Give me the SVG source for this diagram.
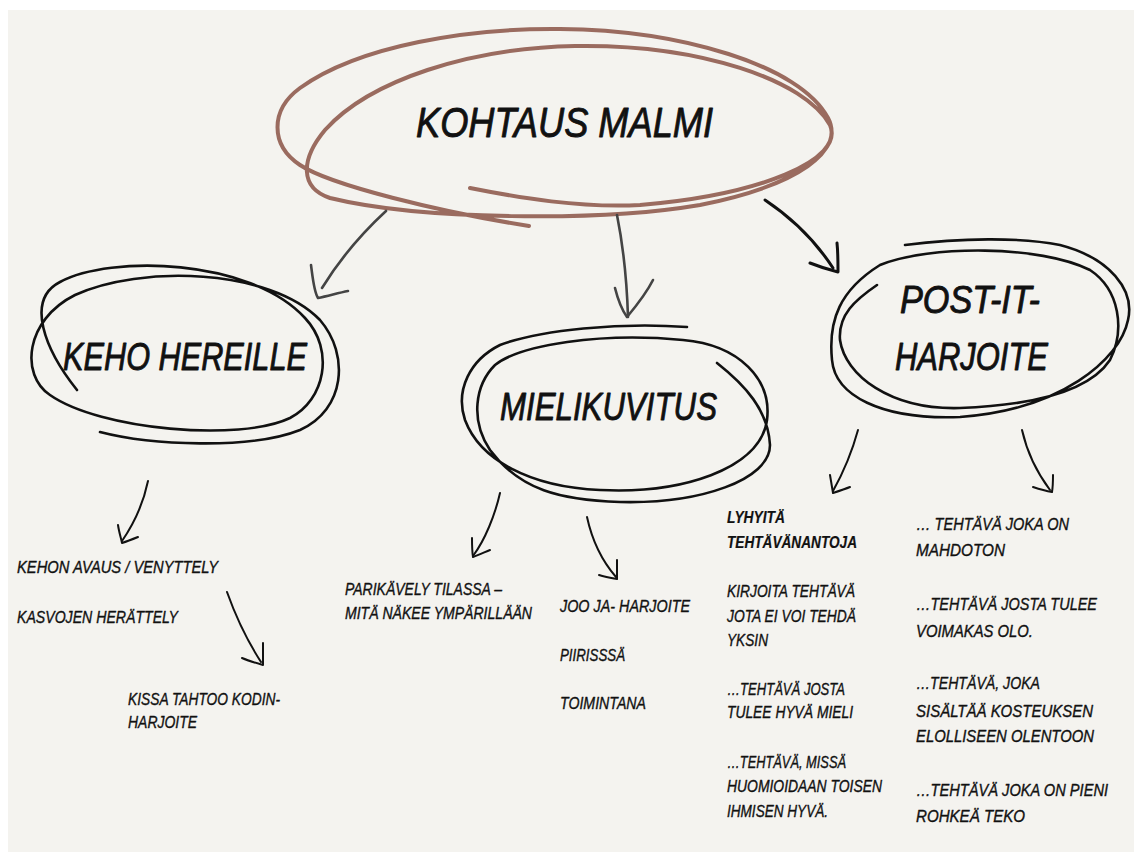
<svg xmlns="http://www.w3.org/2000/svg" width="1134" height="852" viewBox="0 0 1134 852">
<style>
.bg{fill:#f4f3ef}
.brown{fill:none;stroke:#9a6b5f;stroke-width:4;stroke-linecap:round;stroke-linejoin:round}
.loop{fill:none;stroke:#111;stroke-width:2.6;stroke-linecap:round;stroke-linejoin:round}
.arr{fill:none;stroke:#111;stroke-width:2;stroke-linecap:round;stroke-linejoin:round}
.arrg{fill:none;stroke:#444;stroke-width:2.6;stroke-linecap:round;stroke-linejoin:round}
.arrk{fill:none;stroke:#111;stroke-width:3;stroke-linecap:round;stroke-linejoin:round}
text{font-family:"Liberation Sans","DejaVu Sans",sans-serif;font-style:italic;fill:#111;stroke:#111;stroke-linejoin:round}
.big{font-size:42px;stroke-width:0.9}
.node{font-size:38px;stroke-width:0.9}
.sm{font-size:16px;stroke-width:0.35}
.b{font-weight:bold;stroke-width:0.2}
</style>
<rect x="0" y="0" width="1134" height="852" fill="#ffffff"/>
<rect class="bg" x="8" y="10" width="1126" height="842"/>

<g id="node-kohtaus">
<path class="brown" d="M 529 226 C 440 212, 330 185, 300 165 C 270 145, 270 110, 300 88 C 360 45, 470 28, 560 29 C 680 30, 800 65, 828 118 C 845 150, 800 185, 700 205 C 600 222, 420 220, 330 198 C 300 188, 300 160, 325 130 C 370 80, 470 48, 575 46 C 700 44, 805 80, 830 125 C 845 160, 760 195, 640 205 C 580 208, 520 198, 470 188"/>
<text class="big" x="416" y="137" textLength="297" lengthAdjust="spacingAndGlyphs">KOHTAUS MALMI</text>
</g>

<g id="node-keho">
<path class="loop" d="M 77 390 C 45 350, 25 300, 60 282 C 110 255, 250 258, 305 318 C 335 350, 325 400, 290 418 C 240 442, 100 430, 50 395 C 20 375, 25 320, 75 295 C 140 265, 270 268, 320 320 C 350 355, 345 410, 300 430 C 250 450, 150 445, 100 432"/>
<text class="node" x="63" y="370" textLength="244" lengthAdjust="spacingAndGlyphs">KEHO HEREILLE</text>
</g>

<g id="node-mielikuvitus">
<path class="loop" d="M 687 327 C 620 322, 540 330, 500 345 C 470 360, 455 390, 465 420 C 480 460, 530 487, 600 490 C 680 494, 760 470, 767 420 C 772 380, 740 345, 683 340 C 600 332, 520 345, 495 365 C 475 385, 470 420, 490 450 C 520 490, 560 500, 620 502 C 700 504, 770 480, 770 445 C 768 410, 745 385, 717 363"/>
<text class="node" x="500" y="420" textLength="217" lengthAdjust="spacingAndGlyphs">MIELIKUVITUS</text>
</g>

<g id="node-postit">
<path class="loop" d="M 905 245 C 960 238, 1020 237, 1060 245 C 1110 258, 1135 290, 1128 320 C 1120 360, 1060 410, 960 417 C 880 420, 835 395, 832 360 C 828 320, 840 290, 880 265 C 930 245, 1040 245, 1090 270 C 1120 290, 1125 330, 1110 360 C 1090 390, 1040 405, 960 408 C 890 410, 845 375, 840 340 C 838 315, 855 300, 877 285"/>
<text class="node" x="900" y="313" textLength="140" lengthAdjust="spacingAndGlyphs">POST-IT-</text>
<text class="node" x="895" y="370" textLength="153" lengthAdjust="spacingAndGlyphs">HARJOITE</text>
</g>

<g id="connectors">
<path class="arrg" d="M 386 211 C 360 235, 338 262, 322 288"/>
<path class="arrg" d="M 311 265 C 313 280, 314 292, 318 298 C 328 296, 338 293, 348 291"/>
<path class="arrg" d="M 617 215 C 624 250, 627 285, 628 317"/>
<path class="arrg" d="M 615 288 C 618 300, 622 310, 627 317 C 637 305, 647 292, 653 280"/>
<path class="arrk" d="M 765 200 C 795 220, 818 245, 833 268"/>
<path class="arrk" d="M 810 263 C 820 267, 830 270, 838 272 C 838 262, 838 252, 837 243"/>

<path class="arr" d="M 148 481 C 143 505, 133 525, 122 541"/>
<path class="arr" d="M 118 525 C 119 532, 121 538, 122 543 C 128 541, 133 539, 138 537"/>
<path class="arr" d="M 227 592 C 237 620, 250 645, 261 662"/>
<path class="arr" d="M 242 658 C 249 661, 256 663, 263 665 C 263 658, 263 650, 263 643"/>

<path class="arr" d="M 500 493 C 495 515, 485 540, 473 556"/>
<path class="arr" d="M 472 538 C 472 545, 472 551, 473 557 C 479 555, 485 552, 490 550"/>
<path class="arr" d="M 587 517 C 592 540, 603 562, 616 577"/>
<path class="arr" d="M 599 575 C 605 577, 611 578, 617 579 C 617 572, 617 566, 617 560"/>

<path class="arr" d="M 858 430 C 852 452, 843 473, 833 491"/>
<path class="arr" d="M 830 475 C 831 481, 832 487, 833 493 C 839 491, 845 489, 850 487"/>
<path class="arr" d="M 1022 430 C 1027 452, 1038 474, 1050 490"/>
<path class="arr" d="M 1033 487 C 1039 489, 1046 491, 1052 492 C 1053 486, 1053 480, 1053 475"/>
</g>

<g id="text-keho">
<text class="sm" x="17" y="573" textLength="201" lengthAdjust="spacingAndGlyphs">KEHON AVAUS / VENYTTELY</text>
<text class="sm" x="17" y="623" textLength="161" lengthAdjust="spacingAndGlyphs">KASVOJEN HERÄTTELY</text>
<text class="sm" x="128" y="705" textLength="152" lengthAdjust="spacingAndGlyphs">KISSA TAHTOO KODIN-</text>
<text class="sm" x="128" y="728" textLength="69" lengthAdjust="spacingAndGlyphs">HARJOITE</text>
</g>

<g id="text-mielikuvitus">
<text class="sm" x="345" y="595" textLength="157" lengthAdjust="spacingAndGlyphs">PARIKÄVELY TILASSA –</text>
<text class="sm" x="345" y="619" textLength="187" lengthAdjust="spacingAndGlyphs">MITÄ NÄKEE YMPÄRILLÄÄN</text>
<text class="sm" x="560" y="612" textLength="130" lengthAdjust="spacingAndGlyphs">JOO JA- HARJOITE</text>
<text class="sm" x="560" y="661" textLength="65" lengthAdjust="spacingAndGlyphs">PIIRISSSÄ</text>
<text class="sm" x="560" y="709" textLength="86" lengthAdjust="spacingAndGlyphs">TOIMINTANA</text>
</g>

<g id="text-postit-left">
<text class="sm b" x="727" y="523" textLength="58" lengthAdjust="spacingAndGlyphs">LYHYITÄ</text>
<text class="sm b" x="727" y="548" textLength="130" lengthAdjust="spacingAndGlyphs">TEHTÄVÄNANTOJA</text>
<text class="sm" x="727" y="597" textLength="128" lengthAdjust="spacingAndGlyphs">KIRJOITA TEHTÄVÄ</text>
<text class="sm" x="727" y="622" textLength="129" lengthAdjust="spacingAndGlyphs">JOTA EI VOI TEHDÄ</text>
<text class="sm" x="727" y="646" textLength="41" lengthAdjust="spacingAndGlyphs">YKSIN</text>
<text class="sm" x="727" y="695" textLength="118" lengthAdjust="spacingAndGlyphs">…TEHTÄVÄ JOSTA</text>
<text class="sm" x="727" y="718" textLength="126" lengthAdjust="spacingAndGlyphs">TULEE HYVÄ MIELI</text>
<text class="sm" x="727" y="768" textLength="119" lengthAdjust="spacingAndGlyphs">…TEHTÄVÄ, MISSÄ</text>
<text class="sm" x="727" y="792" textLength="155" lengthAdjust="spacingAndGlyphs">HUOMIOIDAAN TOISEN</text>
<text class="sm" x="727" y="817" textLength="101" lengthAdjust="spacingAndGlyphs">IHMISEN HYVÄ.</text>
</g>

<g id="text-postit-right">
<text class="sm" x="916" y="530" textLength="153" lengthAdjust="spacingAndGlyphs">… TEHTÄVÄ JOKA ON</text>
<text class="sm" x="916" y="556" textLength="89" lengthAdjust="spacingAndGlyphs">MAHDOTON</text>
<text class="sm" x="916" y="610" textLength="181" lengthAdjust="spacingAndGlyphs">…TEHTÄVÄ JOSTA TULEE</text>
<text class="sm" x="916" y="637" textLength="117" lengthAdjust="spacingAndGlyphs">VOIMAKAS OLO.</text>
<text class="sm" x="916" y="689" textLength="124" lengthAdjust="spacingAndGlyphs">…TEHTÄVÄ, JOKA</text>
<text class="sm" x="916" y="717" textLength="177" lengthAdjust="spacingAndGlyphs">SISÄLTÄÄ KOSTEUKSEN</text>
<text class="sm" x="916" y="742" textLength="178" lengthAdjust="spacingAndGlyphs">ELOLLISEEN OLENTOON</text>
<text class="sm" x="916" y="796" textLength="192" lengthAdjust="spacingAndGlyphs">…TEHTÄVÄ JOKA ON PIENI</text>
<text class="sm" x="916" y="822" textLength="109" lengthAdjust="spacingAndGlyphs">ROHKEÄ TEKO</text>
</g>
</svg>
